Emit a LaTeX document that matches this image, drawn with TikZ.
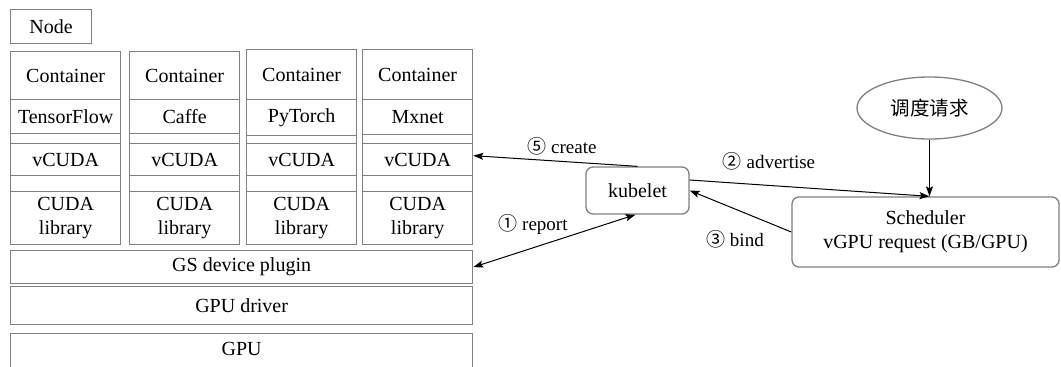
\documentclass[tikz,border=0pt]{standalone}
\usepackage{fontspec}
\setmainfont{Liberation Serif}
\newfontfamily\cjk{Noto Sans CJK SC}
\usetikzlibrary{arrows.meta,shapes.geometric,calc}
\definecolor{boxgray}{gray}{0.5}
\begin{document}
\begin{tikzpicture}[x=1pt,y=-1pt,
  box/.style={draw=boxgray, line width=1.3pt, inner sep=0pt, anchor=north west, align=center,
    font=\fontsize{20}{24}\selectfont},
  rbox/.style={draw=boxgray, line width=1.3pt, rounded corners=7pt, inner sep=0pt, align=center,
    font=\fontsize{20}{24}\selectfont},
  lbl/.style={font=\fontsize{19}{22}\selectfont, inner sep=0pt},
  arr/.style={-{Stealth[length=10pt,width=7pt,inset=2pt]}, line width=1pt, black},
  darr/.style={{Stealth[length=10pt,width=7pt,inset=2pt]}-{Stealth[length=10pt,width=7pt,inset=2pt]}, line width=1pt, black}
]
\useasboundingbox (0,0) rectangle (1061,367);

\node[box, minimum width=81pt, minimum height=34pt] (node) at (10,9) {Node};

% columns: name/x/top/framework-bottom/framework
\foreach \n/\x/\t/\fb/\fw in {1/10/51/133/TensorFlow, 2/129/51/133/Caffe, 3/246/49/135/PyTorch, 4/362/49/134/Mxnet}{
  \pgfmathsetmacro{\hc}{99-\t}
  \pgfmathsetmacro{\hf}{\fb-99}
  \pgfmathsetmacro{\hg}{143-\fb}
  \node[box, minimum width=110pt, minimum height=\hc pt] (c\n) at (\x,\t) {Container};
  \node[box, minimum width=110pt, minimum height=\hf pt] (f\n) at (\x,99) {\fw};
  \node[box, minimum width=110pt, minimum height=\hg pt] (ga\n) at (\x,\fb) {};
  \node[box, minimum width=110pt, minimum height=32pt] (v\n) at (\x,143) {vCUDA};
  \node[box, minimum width=110pt, minimum height=16pt] (gb\n) at (\x,175) {};
  \node[box, minimum width=110pt, minimum height=53pt] (l\n) at (\x,191) {CUDA\\library};
}

\node[box, minimum width=462pt, minimum height=33pt] (plugin) at (10,250) {GS device plugin};
\node[box, minimum width=462pt, minimum height=38pt] (driver) at (10,286) {GPU driver};
\node[box, minimum width=462pt, minimum height=42pt, text height=14pt, text depth=12pt] (gpu) at (10,333) {GPU};

\node[rbox, minimum width=103pt, minimum height=47pt] (kub) at (637.5,190.5) {kubelet};
\node[rbox, minimum width=267pt, minimum height=70pt] (sched) at (925.5,232) {Scheduler\\vGPU request (GB/GPU)};
\node[ellipse, draw=boxgray, line width=1.3pt, minimum width=145pt, minimum height=62pt, inner sep=0pt,
  font=\cjk\fontsize{19.5}{22}\selectfont] (req) at (929.5,108) {调度请求};

\coordinate (stop) at (req.south |- sched.north);
\draw[arr] (req.south) -- (stop);
\draw[arr] (kub.north) -- ([yshift=4pt]v4.east);
\draw[arr] ([yshift=10.5pt]kub.east) -- (stop);
\draw[arr] (sched.west) -- (kub.east);
\draw[darr] (plugin.east) -- ([xshift=-2pt]kub.south);

\node[lbl] (l5) at (562,146) {{\cjk ⑤} create};
\node[lbl] (l2) at (769,161) {{\cjk ②} advertise};
\node[lbl] (l1) at (533,224) {{\cjk ①} report};
\node[lbl] (l3) at (735,239) {{\cjk ③} bind};
\end{tikzpicture}
\end{document}
